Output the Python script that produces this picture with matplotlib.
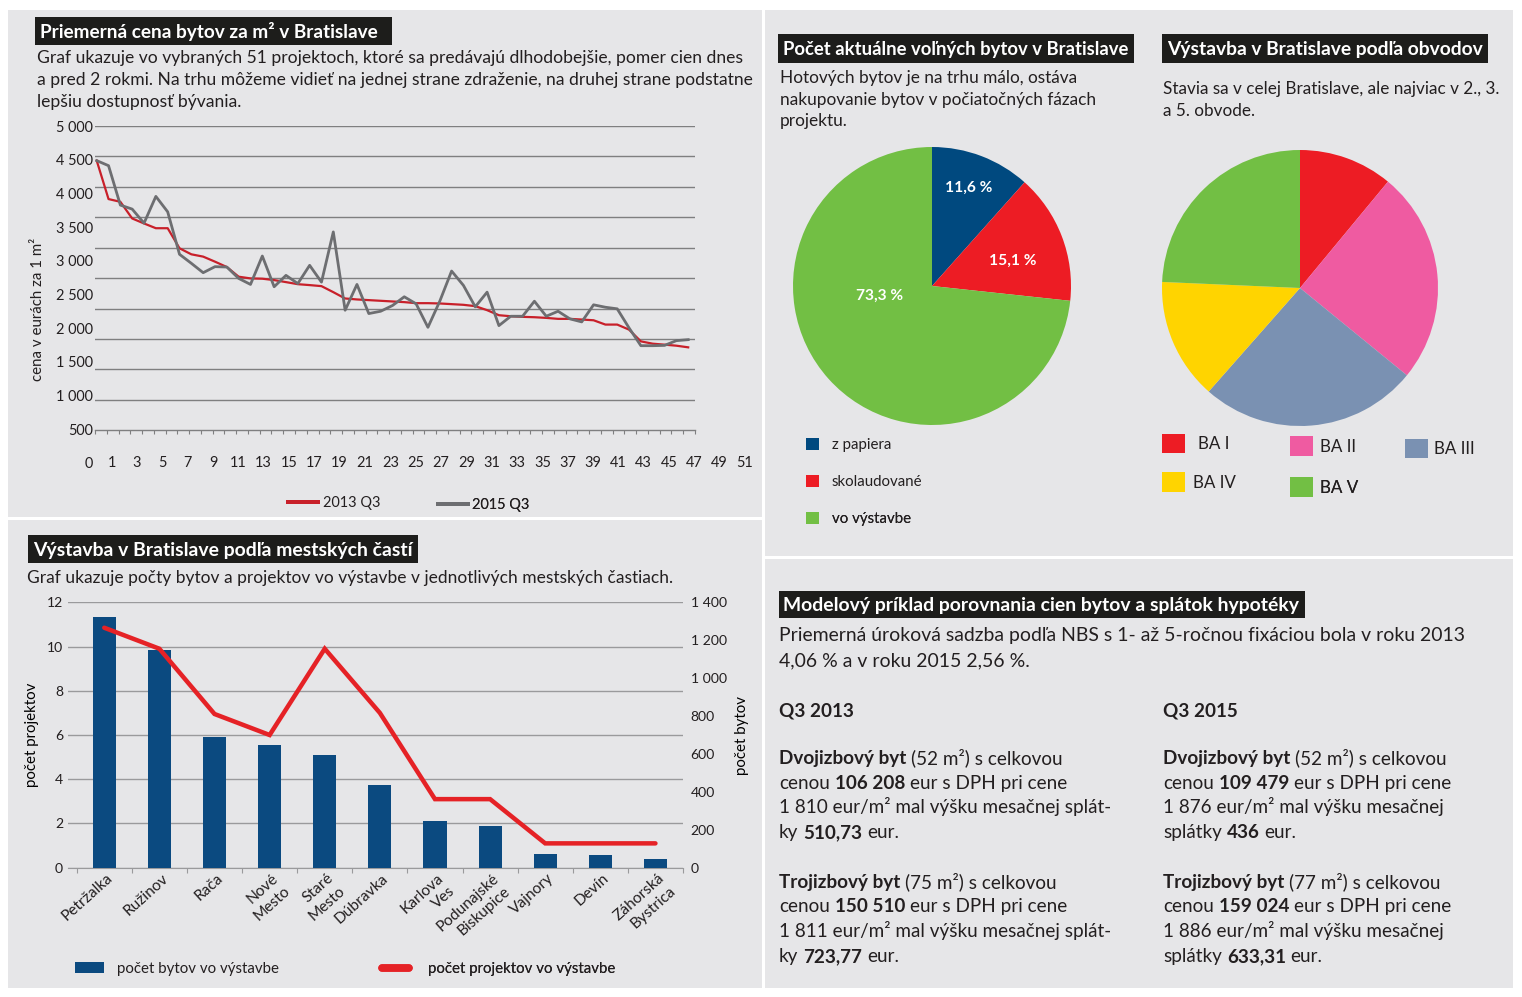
import numpy as np
import matplotlib
matplotlib.use('Agg')
import matplotlib.pyplot as plt
from matplotlib.transforms import Affine2D, ScaledTranslation
from matplotlib.patches import Rectangle, Patch
from matplotlib.lines import Line2D

# ------------------------------------------------------------------ data
project_no = list(range(1, 52))
price_2013_q3 = [4431, 3799, 3754, 3480, 3398, 3320, 3320, 2990, 2891, 2853,
                 2770, 2682, 2523, 2495, 2490, 2467, 2434, 2400, 2385, 2368,
                 2269, 2165, 2149, 2138, 2127, 2116, 2105, 2088, 2088, 2083,
                 2072, 2061, 2039, 1973, 1890, 1873, 1863, 1857, 1846, 1830,
                 1830, 1819, 1807, 1736, 1736, 1653, 1460, 1422, 1406, 1389, 1362]
price_2015_q3 = [4431, 4348, 3700, 3634, 3403, 3843, 3589, 2891, 2743, 2589,
                 2688, 2682, 2495, 2396, 2863, 2358, 2545, 2410, 2710, 2434,
                 3259, 1972, 2396, 1917, 1955, 2049, 2193, 2077, 1691, 2120,
                 2616, 2380, 2028, 2269, 1719, 1873, 1873, 2120, 1873, 1955,
                 1830, 1780, 2061, 2021, 1995, 1681, 1389, 1389, 1394, 1472, 1488]
price_ticks = [0, 500, 1000, 1500, 2000, 2500, 3000, 3500, 4000, 4500, 5000]
price_tick_labels = ['0', '500', '1 000', '1 500', '2 000', '2 500', '3 000',
                     '3 500', '4 000', '4 500', '5 000']
project_tick_labels = list(range(1, 52, 2))

districts = ['Petržalka', 'Ružinov', 'Rača', 'Nové\nMesto', 'Staré\nMesto',
             'Dúbravka', 'Karlova\nVes', 'Podunajské\nBiskupice', 'Vajnory',
             'Devín', 'Záhorská\nBystrica']
flats_in_construction = [1323, 1149, 687, 645, 597, 435, 246, 221, 72, 67, 46]
projects_in_construction = [10.85, 9.9, 6.95, 6.0, 9.9, 7.0, 3.1, 3.1, 1.1, 1.1, 1.1]
project_ticks = [0, 2, 4, 6, 8, 10, 12]
flat_ticks = [0, 200, 400, 600, 800, 1000, 1200, 1400]
flat_tick_labels = ['0', '200', '400', '600', '800', '1 000', '1 200', '1 400']

status_labels = ['z papiera', 'skolaudované', 'vo výstavbe']
status_share = [11.6, 15.1, 73.3]
status_text = ['11,6 %', '15,1 %', '73,3 %']

obvod_labels = ['BA I', 'BA II', 'BA III', 'BA IV', 'BA V']
obvod_share = [11.0, 24.9, 25.6, 14.2, 24.3]

# ------------------------------------------------------------------ style
W, H, DPI = 1522, 997, 100
BG = '#e6e6e8'
TXT = '#231f20'
GRID = '#7f7f80'
GRID2 = '#9a9a9c'
RED13 = '#c8202a'
GRAY15 = '#6d6e71'
BLUE = '#0b4a80'
RED = '#e52226'
PIE1_COLORS = ['#00497f', '#ed1c24', '#72bf44']
PIE2_COLORS = ['#ed1c24', '#ef5ba1', '#7a91b2', '#ffd400', '#72bf44']

plt.rcParams['font.family'] = ['Lato', 'DejaVu Sans']
plt.rcParams['text.color'] = TXT

fig = plt.figure(figsize=(W / DPI, H / DPI), dpi=DPI, facecolor='white')
pix = Affine2D().scale(1 / W, -1 / H).translate(0, 1) + fig.transFigure
renderer = fig.canvas.get_renderer()


def pt(px):
    return px * 72.0 / DPI


def axes_px(x0, y0, x1, y1):
    return fig.add_axes([x0 / W, 1 - y1 / H, (x1 - x0) / W, (y1 - y0) / H])


def text_w(s, px, weight='normal'):
    t = fig.text(0, 0, s, fontsize=pt(px), fontweight=weight)
    w = t.get_window_extent(renderer).width
    t.remove()
    return w


def fit(s, target, weight='normal', base=16.0):
    return base * target / text_w(s, base, weight)


def adv(s, px, weight):
    return text_w('H' + s + 'H', px, weight) - text_w('HH', px, weight)


def ptext(x, y, s, px, weight='normal', color=TXT, ha='left', va='baseline', **kw):
    return fig.text(x, y, s, transform=pix, fontsize=pt(px), fontweight=weight,
                    color=color, ha=ha, va=va, **kw)


def rich(x, y, segs, px):
    for s, bold in segs:
        w = 'bold' if bold else 'normal'
        lead = len(s) - len(s.lstrip(' '))
        core = s.strip(' ')
        if core:
            ptext(x + (adv(' ' * lead, px, w) if lead else 0), y, core, px, weight=w)
        x += adv(s, px, w)


def title_box(x0, y0, x1, y1, s, tx0, tx1):
    fig.add_artist(Rectangle((x0, y0), x1 - x0, y1 - y0, transform=pix,
                             facecolor='#1d1d1b', edgecolor='none', zorder=-5))
    size = fit(s, tx1 - tx0, 'bold')
    ptext(tx0, (y0 + y1) / 2 + 0.36 * size, s, size, weight='bold', color='white')


def key(ax, handle, label, x, y, fs_px, hl, hh=0.7, pad=0.4):
    leg = ax.legend([handle], [label], loc='center left', bbox_to_anchor=(x, y),
                    bbox_transform=pix, frameon=False, borderpad=0, borderaxespad=0,
                    handlelength=hl, handleheight=hh, handletextpad=pad,
                    prop={'size': pt(fs_px)}, labelcolor=TXT)
    ax.add_artist(leg)


# ------------------------------------------------------------------ panels
for (x0, y0, x1, y1) in [(8, 10, 762, 517), (8, 520, 762, 988),
                         (765, 10, 1513, 556), (765, 559, 1513, 988)]:
    fig.add_artist(Rectangle((x0, y0), x1 - x0, y1 - y0, transform=pix,
                             facecolor=BG, edgecolor='none', zorder=-10))

# ------------------------------------------------------------------ texts
title_box(35, 17, 392, 45, 'Priemerná cena bytov za m² v Bratislave', 40, 378)
sub1 = ['Graf ukazuje vo vybraných 51 projektoch, ktoré sa predávajú dlhodobejšie, pomer cien dnes',
        'a pred 2 rokmi. Na trhu môžeme vidieť na jednej strane zdraženie, na druhej strane podstatne',
        'lepšiu dostupnosť bývania.']
s1 = fit(sub1[1], 713)
for i, line in enumerate(sub1):
    ptext(37, 63 + 22 * i, line, s1)

title_box(28, 535, 418, 563, 'Výstavba v Bratislave podľa mestských častí', 33, 412)
sub2 = 'Graf ukazuje počty bytov a projektov vo výstavbe v jednotlivých mestských častiach.'
ptext(27, 583, sub2, fit(sub2, 644))

title_box(778, 34, 1134, 63, 'Počet aktuálne voľných bytov v Bratislave', 783, 1128)
sub3 = ['Hotových bytov je na trhu málo, ostáva',
        'nakupovanie bytov v počiatočných fázach',
        'projektu.']
s3 = fit(sub3[1], 317)
for i, line in enumerate(sub3):
    ptext(780, 83 + 21.5 * i, line, s3)

title_box(1162, 34, 1488, 63, 'Výstavba v Bratislave podľa obvodov', 1167, 1483)
sub4 = ['Stavia sa v celej Bratislave, ale najviac v 2., 3.', 'a 5. obvode.']
s4 = fit(sub4[0], 337)
for i, line in enumerate(sub4):
    ptext(1163, 94 + 22 * i, line, s4)

title_box(779, 591, 1305, 618, 'Modelový príklad porovnania cien bytov a splátok hypotéky', 783, 1299)
sub5 = ['Priemerná úroková sadzba podľa NBS s 1- až 5-ročnou fixáciou bola v roku 2013',
        '4,06 % a v roku 2015 2,56 %.']
s5 = fit(sub5[0], 682)
for i, line in enumerate(sub5):
    ptext(779, 641 + 25 * i, line, s5)

sb = fit('1 810 eur/m² mal výšku mesačnej splát-', 332)
ptext(779, 716, 'Q3 2013', sb, weight='bold')
ptext(1163, 716, 'Q3 2015', sb, weight='bold')
left_block = [
    [('Dvojizbový byt', True), (' (52 m²) s celkovou', False)],
    [('cenou ', False), ('106 208', True), (' eur s DPH pri cene', False)],
    [('1 810 eur/m² mal výšku mesačnej splát-', False)],
    [('ky ', False), ('510,73', True), (' eur.', False)],
    [('Trojizbový byt', True), (' (75 m²) s celkovou', False)],
    [('cenou ', False), ('150 510', True), (' eur s DPH pri cene', False)],
    [('1 811 eur/m² mal výšku mesačnej splát-', False)],
    [('ky ', False), ('723,77', True), (' eur.', False)],
]
right_block = [
    [('Dvojizbový byt', True), (' (52 m²) s celkovou', False)],
    [('cenou ', False), ('109 479', True), (' eur s DPH pri cene', False)],
    [('1 876 eur/m² mal výšku mesačnej', False)],
    [('splátky ', False), ('436', True), (' eur.', False)],
    [('Trojizbový byt', True), (' (77 m²) s celkovou', False)],
    [('cenou ', False), ('159 024', True), (' eur s DPH pri cene', False)],
    [('1 886 eur/m² mal výšku mesačnej', False)],
    [('splátky ', False), ('633,31', True), (' eur.', False)],
]
body_y = [764, 789, 813, 838, 888, 912, 937, 962]
for segs, y in zip(left_block, body_y):
    rich(779, y, segs, sb)
for segs, y in zip(right_block, body_y):
    rich(1163, y, segs, sb)

# ------------------------------------------------------------------ line chart
ax = axes_px(95, 126, 695, 430.2)
xl = (0.856, 51.575)
ax.set_xlim(*xl)
ax.set_ylim(0, 5000)
ax.patch.set_visible(False)
for sp in ['top', 'left', 'right']:
    ax.spines[sp].set_visible(False)
ax.spines['bottom'].set_color(GRID)
ax.spines['bottom'].set_linewidth(1.0)
ax.set_yticks(price_ticks[1:])
ax.yaxis.grid(True, color=GRID, lw=1.0)
ax.set_axisbelow(True)
ax.tick_params(axis='y', length=0, labelleft=False)
ax.set_xticks(np.linspace(xl[0], xl[1], 52))
ax.tick_params(axis='x', direction='out', length=pt(4), width=0.8, color=GRID,
               labelbottom=False)
ax.plot(project_no, price_2013_q3, color=RED13, lw=1.6, zorder=3)
ax.plot(project_no, price_2015_q3, color=GRAY15, lw=2.0, zorder=4)

axl = axes_px(111.7, 126, 745, 463)
axl.set_xlim(1, 51)
axl.set_ylim(0, 5000)
axl.patch.set_visible(False)
for sp in axl.spines.values():
    sp.set_visible(False)
axl.set_yticks(price_ticks, labels=price_tick_labels)
axl.set_xticks(project_tick_labels, labels=[str(v) for v in project_tick_labels])
axl.tick_params(axis='both', length=0, labelsize=pt(14.5), labelcolor=TXT)
axl.tick_params(axis='y', pad=pt(18.7))
axl.tick_params(axis='x', pad=0)
plt.setp(axl.get_xticklabels(), va='center')
ptext(38, 309, 'cena v eurách za 1 m²', 15, rotation=90, ha='center', va='center')

key(ax, Line2D([], [], color=RED13, lw=pt(4)), '2013 Q3', 288, 503, 14.5, hl=30 / 14.5, pad=0.35)
key(ax, Line2D([], [], color=GRAY15, lw=pt(4)), '2015 Q3', 438, 505, 14.5, hl=30 / 14.5, pad=0.3)

# ------------------------------------------------------------------ bar chart
axb = axes_px(68, 602.3, 683, 867.7)
xs = np.arange(len(districts))
axb.set_xlim(-0.658, 10.5)
axb.set_ylim(0, 12)
axb.patch.set_visible(False)
for sp in ['top', 'left', 'right']:
    axb.spines[sp].set_visible(False)
axb.spines['bottom'].set_color(GRID2)
axb.set_yticks(project_ticks)
axb.yaxis.grid(True, color=GRID2, lw=1.0)
axb.tick_params(axis='y', length=0, pad=pt(5), labelsize=pt(14), labelcolor=TXT)
axb.set_xticks(xs, labels=districts, rotation=42, ha='right', rotation_mode='anchor')
axb.set_xticks(np.arange(-0.5, 10.6, 1), minor=True)
axb.tick_params(axis='x', which='major', length=0, pad=pt(3.5), labelsize=pt(15.5),
                labelcolor=TXT)
axb.tick_params(axis='x', which='minor', length=pt(5), width=0.8, color=GRID2,
                direction='out')
axb.set_ylabel('počet projektov', fontsize=pt(15), labelpad=pt(8))
shift = ScaledTranslation(2 / DPI, 0, fig.dpi_scale_trans)
for lbl in axb.get_xticklabels():
    lbl.set_transform(lbl.get_transform() + shift)
    lbl.set_linespacing(1.3)

axf = axb.twinx()
axf.set_ylim(0, 1400)
for sp in axf.spines.values():
    sp.set_visible(False)
axf.bar(xs, flats_in_construction, width=0.42, color=BLUE, zorder=2)
axf.set_yticks(flat_ticks, labels=flat_tick_labels)
axf.tick_params(axis='y', length=0, pad=pt(7.7), labelsize=pt(14), labelcolor=TXT)
axf.set_ylabel('počet bytov', fontsize=pt(15), labelpad=pt(8))

axp = axb.twinx()
axp.set_ylim(0, 12)
axp.set_yticks([])
for sp in axp.spines.values():
    sp.set_visible(False)
axp.plot(xs, projects_in_construction, color=RED, lw=pt(4.5),
         solid_capstyle='round', solid_joinstyle='miter')

key(axp, Patch(facecolor=BLUE, edgecolor='none'), 'počet bytov vo výstavbe', 75, 969,
    15, hl=29 / 15, hh=11 / 15, pad=0.85)
key(axp, Line2D([], [], color=RED, lw=pt(7.5), solid_capstyle='round'),
    'počet projektov vo výstavbe', 382, 969, 15, hl=27 / 15, pad=1.3)

# ------------------------------------------------------------------ pie 1
ap1 = axes_px(793, 147, 1071, 425)
ap1.pie(status_share, colors=PIE1_COLORS, startangle=90, counterclock=False,
        wedgeprops=dict(linewidth=0))
ap1.set_xlim(-1, 1)
ap1.set_ylim(-1, 1)
for (tx, ty), s in zip([(0.266, 0.709), (0.583, 0.18), (-0.374, -0.072)], status_text):
    ap1.text(tx, ty, s, color='white', fontsize=pt(15.5), fontweight='bold',
             ha='center', va='center')
for lab, col, yy in zip(status_labels, PIE1_COLORS, [445, 481.7, 519]):
    key(ap1, Patch(facecolor=col, edgecolor='none'), lab, 806, yy, 15,
        hl=13 / 15, hh=13 / 15, pad=0.85)

# ------------------------------------------------------------------ pie 2
ap2 = axes_px(1162, 150, 1438, 426)
ap2.pie(obvod_share, colors=PIE2_COLORS, startangle=90, counterclock=False,
        wedgeprops=dict(linewidth=0))
ap2.set_xlim(-1, 1)
ap2.set_ylim(-1, 1)
pie2_keys = [(1162, 443.5, 0.75), (1290, 446, 0.43), (1405, 448.7, 0.38),
             (1162, 482, 0.47), (1290, 487, 0.41)]
for lab, col, (kx, ky, kp) in zip(obvod_labels, PIE2_COLORS, pie2_keys):
    key(ap2, Patch(facecolor=col, edgecolor='none'), lab, kx, ky, 17,
        hl=23 / 17, hh=23 / 17, pad=kp)

fig.savefig('out.png', dpi=DPI, facecolor='white')
